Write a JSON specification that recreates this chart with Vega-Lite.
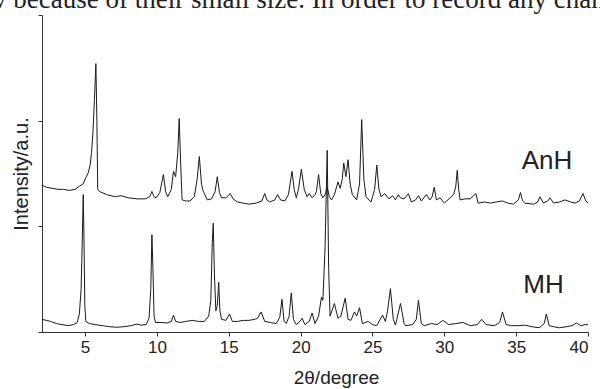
{
  "$schema": "https://vega.github.io/schema/vega-lite/v6.json",
  "autosize": {"type": "none"},
  "padding": {"left": 42, "top": 15, "right": 12, "bottom": 57},
  "width": 546,
  "height": 317,
  "background": "white",
  "title": {
    "text": "v because of their small size. In order to record any chan",
    "anchor": "start",
    "frame": "group",
    "font": "Liberation Serif",
    "fontSize": 27,
    "fontWeight": "normal",
    "color": "#222",
    "dx": -49,
    "dy": 20,
    "offset": 0,
    "baseline": "alphabetic"
  },
  "config": {
    "view": {"stroke": null},
    "axis": {"grid": false, "domainColor": "#333", "tickColor": "#333", "labelColor": "#222", "titleColor": "#222", "labelFont": "Liberation Sans", "titleFont": "Liberation Sans", "titleFontWeight": "normal"}
  },
  "datasets": {
    "xrd": [
      {"s":"MH","x":2.0,"y":0.12},{"s":"MH","x":2.3,"y":0.11},{"s":"MH","x":2.6,"y":0.10},{"s":"MH","x":3.0,"y":0.08},{"s":"MH","x":3.4,"y":0.07},{"s":"MH","x":3.8,"y":0.06},{"s":"MH","x":4.2,"y":0.07},{"s":"MH","x":4.45,"y":0.09},{"s":"MH","x":4.6,"y":0.17},{"s":"MH","x":4.72,"y":0.40},{"s":"MH","x":4.8,"y":0.85},{"s":"MH","x":4.87,"y":1.30},{"s":"MH","x":4.93,"y":0.80},{"s":"MH","x":4.98,"y":0.25},{"s":"MH","x":5.05,"y":0.10},{"s":"MH","x":5.3,"y":0.08},{"s":"MH","x":5.7,"y":0.07},{"s":"MH","x":6.2,"y":0.06},{"s":"MH","x":6.7,"y":0.05},{"s":"MH","x":7.2,"y":0.045},{"s":"MH","x":7.7,"y":0.05},{"s":"MH","x":8.2,"y":0.06},{"s":"MH","x":8.6,"y":0.075},{"s":"MH","x":8.9,"y":0.065},{"s":"MH","x":9.25,"y":0.07},{"s":"MH","x":9.45,"y":0.13},{"s":"MH","x":9.57,"y":0.40},{"s":"MH","x":9.65,"y":0.92},{"s":"MH","x":9.72,"y":0.60},{"s":"MH","x":9.8,"y":0.15},{"s":"MH","x":9.9,"y":0.09},{"s":"MH","x":10.3,"y":0.09},{"s":"MH","x":10.7,"y":0.085},{"s":"MH","x":11.0,"y":0.10},{"s":"MH","x":11.15,"y":0.16},{"s":"MH","x":11.3,"y":0.10},{"s":"MH","x":11.6,"y":0.09},{"s":"MH","x":12.0,"y":0.10},{"s":"MH","x":12.5,"y":0.11},{"s":"MH","x":12.9,"y":0.10},{"s":"MH","x":13.3,"y":0.10},{"s":"MH","x":13.6,"y":0.15},{"s":"MH","x":13.75,"y":0.30},{"s":"MH","x":13.85,"y":0.85},{"s":"MH","x":13.92,"y":1.03},{"s":"MH","x":14.0,"y":0.55},{"s":"MH","x":14.1,"y":0.20},{"s":"MH","x":14.2,"y":0.25},{"s":"MH","x":14.3,"y":0.47},{"s":"MH","x":14.38,"y":0.20},{"s":"MH","x":14.5,"y":0.12},{"s":"MH","x":14.8,"y":0.11},{"s":"MH","x":15.05,"y":0.17},{"s":"MH","x":15.25,"y":0.10},{"s":"MH","x":15.6,"y":0.10},{"s":"MH","x":16.0,"y":0.11},{"s":"MH","x":16.4,"y":0.11},{"s":"MH","x":16.8,"y":0.12},{"s":"MH","x":17.0,"y":0.13},{"s":"MH","x":17.25,"y":0.19},{"s":"MH","x":17.5,"y":0.10},{"s":"MH","x":17.9,"y":0.09},{"s":"MH","x":18.3,"y":0.08},{"s":"MH","x":18.55,"y":0.14},{"s":"MH","x":18.7,"y":0.31},{"s":"MH","x":18.85,"y":0.10},{"s":"MH","x":19.0,"y":0.08},{"s":"MH","x":19.2,"y":0.15},{"s":"MH","x":19.35,"y":0.37},{"s":"MH","x":19.5,"y":0.12},{"s":"MH","x":19.7,"y":0.07},{"s":"MH","x":19.95,"y":0.10},{"s":"MH","x":20.1,"y":0.13},{"s":"MH","x":20.3,"y":0.07},{"s":"MH","x":20.6,"y":0.10},{"s":"MH","x":20.8,"y":0.18},{"s":"MH","x":21.0,"y":0.08},{"s":"MH","x":21.25,"y":0.15},{"s":"MH","x":21.45,"y":0.33},{"s":"MH","x":21.55,"y":0.30},{"s":"MH","x":21.7,"y":0.80},{"s":"MH","x":21.85,"y":1.72},{"s":"MH","x":21.95,"y":0.60},{"s":"MH","x":22.05,"y":0.15},{"s":"MH","x":22.35,"y":0.27},{"s":"MH","x":22.6,"y":0.13},{"s":"MH","x":22.8,"y":0.15},{"s":"MH","x":23.1,"y":0.32},{"s":"MH","x":23.3,"y":0.12},{"s":"MH","x":23.5,"y":0.11},{"s":"MH","x":23.75,"y":0.19},{"s":"MH","x":23.9,"y":0.15},{"s":"MH","x":24.1,"y":0.23},{"s":"MH","x":24.3,"y":0.08},{"s":"MH","x":24.7,"y":0.10},{"s":"MH","x":25.0,"y":0.07},{"s":"MH","x":25.3,"y":0.06},{"s":"MH","x":25.7,"y":0.16},{"s":"MH","x":25.9,"y":0.10},{"s":"MH","x":26.05,"y":0.20},{"s":"MH","x":26.25,"y":0.41},{"s":"MH","x":26.45,"y":0.12},{"s":"MH","x":26.6,"y":0.065},{"s":"MH","x":26.95,"y":0.27},{"s":"MH","x":27.2,"y":0.08},{"s":"MH","x":27.3,"y":0.06},{"s":"MH","x":27.8,"y":0.07},{"s":"MH","x":28.05,"y":0.12},{"s":"MH","x":28.2,"y":0.30},{"s":"MH","x":28.4,"y":0.08},{"s":"MH","x":28.6,"y":0.06},{"s":"MH","x":29.1,"y":0.08},{"s":"MH","x":29.5,"y":0.07},{"s":"MH","x":29.9,"y":0.11},{"s":"MH","x":30.3,"y":0.07},{"s":"MH","x":30.8,"y":0.08},{"s":"MH","x":31.3,"y":0.09},{"s":"MH","x":31.8,"y":0.06},{"s":"MH","x":32.3,"y":0.07},{"s":"MH","x":32.6,"y":0.12},{"s":"MH","x":32.9,"y":0.07},{"s":"MH","x":33.5,"y":0.06},{"s":"MH","x":33.85,"y":0.09},{"s":"MH","x":34.05,"y":0.19},{"s":"MH","x":34.3,"y":0.07},{"s":"MH","x":34.7,"y":0.06},{"s":"MH","x":35.2,"y":0.06},{"s":"MH","x":35.6,"y":0.065},{"s":"MH","x":36.1,"y":0.05},{"s":"MH","x":36.6,"y":0.04},{"s":"MH","x":36.95,"y":0.08},{"s":"MH","x":37.1,"y":0.17},{"s":"MH","x":37.3,"y":0.06},{"s":"MH","x":37.6,"y":0.05},{"s":"MH","x":38.0,"y":0.04},{"s":"MH","x":38.5,"y":0.05},{"s":"MH","x":38.9,"y":0.06},{"s":"MH","x":39.2,"y":0.085},{"s":"MH","x":39.5,"y":0.06},{"s":"MH","x":39.8,"y":0.07},{"s":"MH","x":40.0,"y":0.07},
      {"s":"AnH","x":2.0,"y":1.39},{"s":"AnH","x":2.3,"y":1.37},{"s":"AnH","x":2.7,"y":1.36},{"s":"AnH","x":3.1,"y":1.35},{"s":"AnH","x":3.5,"y":1.35},{"s":"AnH","x":3.9,"y":1.34},{"s":"AnH","x":4.3,"y":1.35},{"s":"AnH","x":4.6,"y":1.38},{"s":"AnH","x":4.85,"y":1.40},{"s":"AnH","x":5.05,"y":1.46},{"s":"AnH","x":5.2,"y":1.50},{"s":"AnH","x":5.35,"y":1.58},{"s":"AnH","x":5.45,"y":1.70},{"s":"AnH","x":5.55,"y":1.90},{"s":"AnH","x":5.65,"y":2.20},{"s":"AnH","x":5.75,"y":2.54},{"s":"AnH","x":5.82,"y":2.00},{"s":"AnH","x":5.88,"y":1.35},{"s":"AnH","x":6.0,"y":1.33},{"s":"AnH","x":6.5,"y":1.30},{"s":"AnH","x":7.1,"y":1.28},{"s":"AnH","x":7.5,"y":1.29},{"s":"AnH","x":8.0,"y":1.27},{"s":"AnH","x":8.6,"y":1.26},{"s":"AnH","x":9.2,"y":1.26},{"s":"AnH","x":9.5,"y":1.28},{"s":"AnH","x":9.65,"y":1.33},{"s":"AnH","x":9.8,"y":1.28},{"s":"AnH","x":9.95,"y":1.27},{"s":"AnH","x":10.2,"y":1.32},{"s":"AnH","x":10.45,"y":1.49},{"s":"AnH","x":10.6,"y":1.33},{"s":"AnH","x":10.75,"y":1.28},{"s":"AnH","x":11.0,"y":1.35},{"s":"AnH","x":11.15,"y":1.52},{"s":"AnH","x":11.3,"y":1.47},{"s":"AnH","x":11.45,"y":1.70},{"s":"AnH","x":11.55,"y":2.02},{"s":"AnH","x":11.65,"y":1.60},{"s":"AnH","x":11.75,"y":1.25},{"s":"AnH","x":12.0,"y":1.24},{"s":"AnH","x":12.3,"y":1.24},{"s":"AnH","x":12.6,"y":1.28},{"s":"AnH","x":12.8,"y":1.45},{"s":"AnH","x":12.95,"y":1.66},{"s":"AnH","x":13.1,"y":1.40},{"s":"AnH","x":13.2,"y":1.34},{"s":"AnH","x":13.3,"y":1.31},{"s":"AnH","x":13.5,"y":1.25},{"s":"AnH","x":13.8,"y":1.26},{"s":"AnH","x":14.05,"y":1.33},{"s":"AnH","x":14.2,"y":1.47},{"s":"AnH","x":14.35,"y":1.32},{"s":"AnH","x":14.5,"y":1.27},{"s":"AnH","x":14.8,"y":1.27},{"s":"AnH","x":15.1,"y":1.31},{"s":"AnH","x":15.3,"y":1.26},{"s":"AnH","x":15.6,"y":1.23},{"s":"AnH","x":16.0,"y":1.22},{"s":"AnH","x":16.4,"y":1.21},{"s":"AnH","x":16.9,"y":1.22},{"s":"AnH","x":17.3,"y":1.24},{"s":"AnH","x":17.5,"y":1.31},{"s":"AnH","x":17.65,"y":1.25},{"s":"AnH","x":17.85,"y":1.23},{"s":"AnH","x":18.2,"y":1.25},{"s":"AnH","x":18.4,"y":1.30},{"s":"AnH","x":18.6,"y":1.25},{"s":"AnH","x":18.9,"y":1.24},{"s":"AnH","x":19.15,"y":1.30},{"s":"AnH","x":19.4,"y":1.52},{"s":"AnH","x":19.55,"y":1.35},{"s":"AnH","x":19.7,"y":1.27},{"s":"AnH","x":19.85,"y":1.35},{"s":"AnH","x":20.05,"y":1.54},{"s":"AnH","x":20.25,"y":1.35},{"s":"AnH","x":20.45,"y":1.28},{"s":"AnH","x":20.6,"y":1.31},{"s":"AnH","x":20.8,"y":1.27},{"s":"AnH","x":21.0,"y":1.30},{"s":"AnH","x":21.1,"y":1.33},{"s":"AnH","x":21.25,"y":1.49},{"s":"AnH","x":21.4,"y":1.31},{"s":"AnH","x":21.55,"y":1.27},{"s":"AnH","x":21.7,"y":1.30},{"s":"AnH","x":21.85,"y":1.37},{"s":"AnH","x":22.0,"y":1.28},{"s":"AnH","x":22.15,"y":1.25},{"s":"AnH","x":22.35,"y":1.30},{"s":"AnH","x":22.6,"y":1.42},{"s":"AnH","x":22.75,"y":1.36},{"s":"AnH","x":22.9,"y":1.45},{"s":"AnH","x":23.0,"y":1.60},{"s":"AnH","x":23.15,"y":1.47},{"s":"AnH","x":23.3,"y":1.63},{"s":"AnH","x":23.45,"y":1.40},{"s":"AnH","x":23.6,"y":1.30},{"s":"AnH","x":23.9,"y":1.25},{"s":"AnH","x":24.1,"y":1.40},{"s":"AnH","x":24.25,"y":2.01},{"s":"AnH","x":24.4,"y":1.45},{"s":"AnH","x":24.55,"y":1.28},{"s":"AnH","x":24.9,"y":1.23},{"s":"AnH","x":25.15,"y":1.35},{"s":"AnH","x":25.3,"y":1.58},{"s":"AnH","x":25.45,"y":1.35},{"s":"AnH","x":25.6,"y":1.28},{"s":"AnH","x":25.85,"y":1.31},{"s":"AnH","x":26.15,"y":1.26},{"s":"AnH","x":26.4,"y":1.29},{"s":"AnH","x":26.6,"y":1.25},{"s":"AnH","x":26.8,"y":1.30},{"s":"AnH","x":26.95,"y":1.27},{"s":"AnH","x":27.2,"y":1.26},{"s":"AnH","x":27.5,"y":1.31},{"s":"AnH","x":27.7,"y":1.23},{"s":"AnH","x":28.0,"y":1.25},{"s":"AnH","x":28.2,"y":1.29},{"s":"AnH","x":28.4,"y":1.24},{"s":"AnH","x":28.75,"y":1.30},{"s":"AnH","x":29.0,"y":1.25},{"s":"AnH","x":29.15,"y":1.28},{"s":"AnH","x":29.3,"y":1.37},{"s":"AnH","x":29.45,"y":1.25},{"s":"AnH","x":29.7,"y":1.27},{"s":"AnH","x":30.0,"y":1.22},{"s":"AnH","x":30.4,"y":1.27},{"s":"AnH","x":30.65,"y":1.30},{"s":"AnH","x":30.8,"y":1.38},{"s":"AnH","x":30.9,"y":1.53},{"s":"AnH","x":31.0,"y":1.35},{"s":"AnH","x":31.1,"y":1.25},{"s":"AnH","x":31.45,"y":1.26},{"s":"AnH","x":31.8,"y":1.26},{"s":"AnH","x":32.2,"y":1.31},{"s":"AnH","x":32.35,"y":1.22},{"s":"AnH","x":32.8,"y":1.23},{"s":"AnH","x":33.2,"y":1.22},{"s":"AnH","x":33.6,"y":1.23},{"s":"AnH","x":34.05,"y":1.24},{"s":"AnH","x":34.4,"y":1.22},{"s":"AnH","x":34.8,"y":1.21},{"s":"AnH","x":35.15,"y":1.25},{"s":"AnH","x":35.3,"y":1.32},{"s":"AnH","x":35.45,"y":1.24},{"s":"AnH","x":35.6,"y":1.22},{"s":"AnH","x":36.2,"y":1.21},{"s":"AnH","x":36.5,"y":1.23},{"s":"AnH","x":36.65,"y":1.28},{"s":"AnH","x":36.9,"y":1.22},{"s":"AnH","x":37.2,"y":1.24},{"s":"AnH","x":37.35,"y":1.27},{"s":"AnH","x":37.6,"y":1.22},{"s":"AnH","x":38.0,"y":1.23},{"s":"AnH","x":38.4,"y":1.25},{"s":"AnH","x":38.8,"y":1.23},{"s":"AnH","x":39.1,"y":1.22},{"s":"AnH","x":39.4,"y":1.24},{"s":"AnH","x":39.65,"y":1.31},{"s":"AnH","x":39.85,"y":1.24},{"s":"AnH","x":40.0,"y":1.22}
    ],
    "labels": [
      {"label": "AnH", "x": 37.15, "y": 1.54},
      {"label": "MH", "x": 36.9, "y": 0.366}
    ]
  },
  "layer": [
    {
      "data": {"name": "xrd"},
      "mark": {"type": "line", "color": "#1a1a1a", "strokeWidth": 1, "interpolate": "linear"},
      "encoding": {
        "x": {
          "field": "x", "type": "quantitative",
          "scale": {"domain": [2, 40], "nice": false, "zero": false},
          "axis": {
            "values": [5, 10, 15, 20, 25, 30, 35, 40],
            "tickSize": 4, "labelFontSize": 17, "labelPadding": 3,
            "title": "2θ/degree", "titleFontSize": 19,
            "titleX": 294, "titleY": 51, "titleBaseline": "alphabetic", "titleAlign": "center"
          }
        },
        "y": {
          "field": "y", "type": "quantitative",
          "scale": {"domain": [0, 3], "nice": false},
          "axis": {
            "values": [0, 1, 2, 3], "labels": false, "tickSize": 4,
            "title": "Intensity/a.u.", "titleFontSize": 20,
            "titleX": -15, "titleY": 158.5, "titleAngle": 270, "titleBaseline": "alphabetic", "titleAlign": "center"
          }
        },
        "detail": {"field": "s", "type": "nominal"}
      }
    },
    {
      "data": {"name": "labels"},
      "mark": {"type": "text", "font": "Liberation Sans", "fontSize": 26, "color": "#222", "align": "center", "baseline": "alphabetic"},
      "encoding": {
        "x": {"field": "x", "type": "quantitative"},
        "y": {"field": "y", "type": "quantitative"},
        "text": {"field": "label"}
      }
    }
  ]
}
